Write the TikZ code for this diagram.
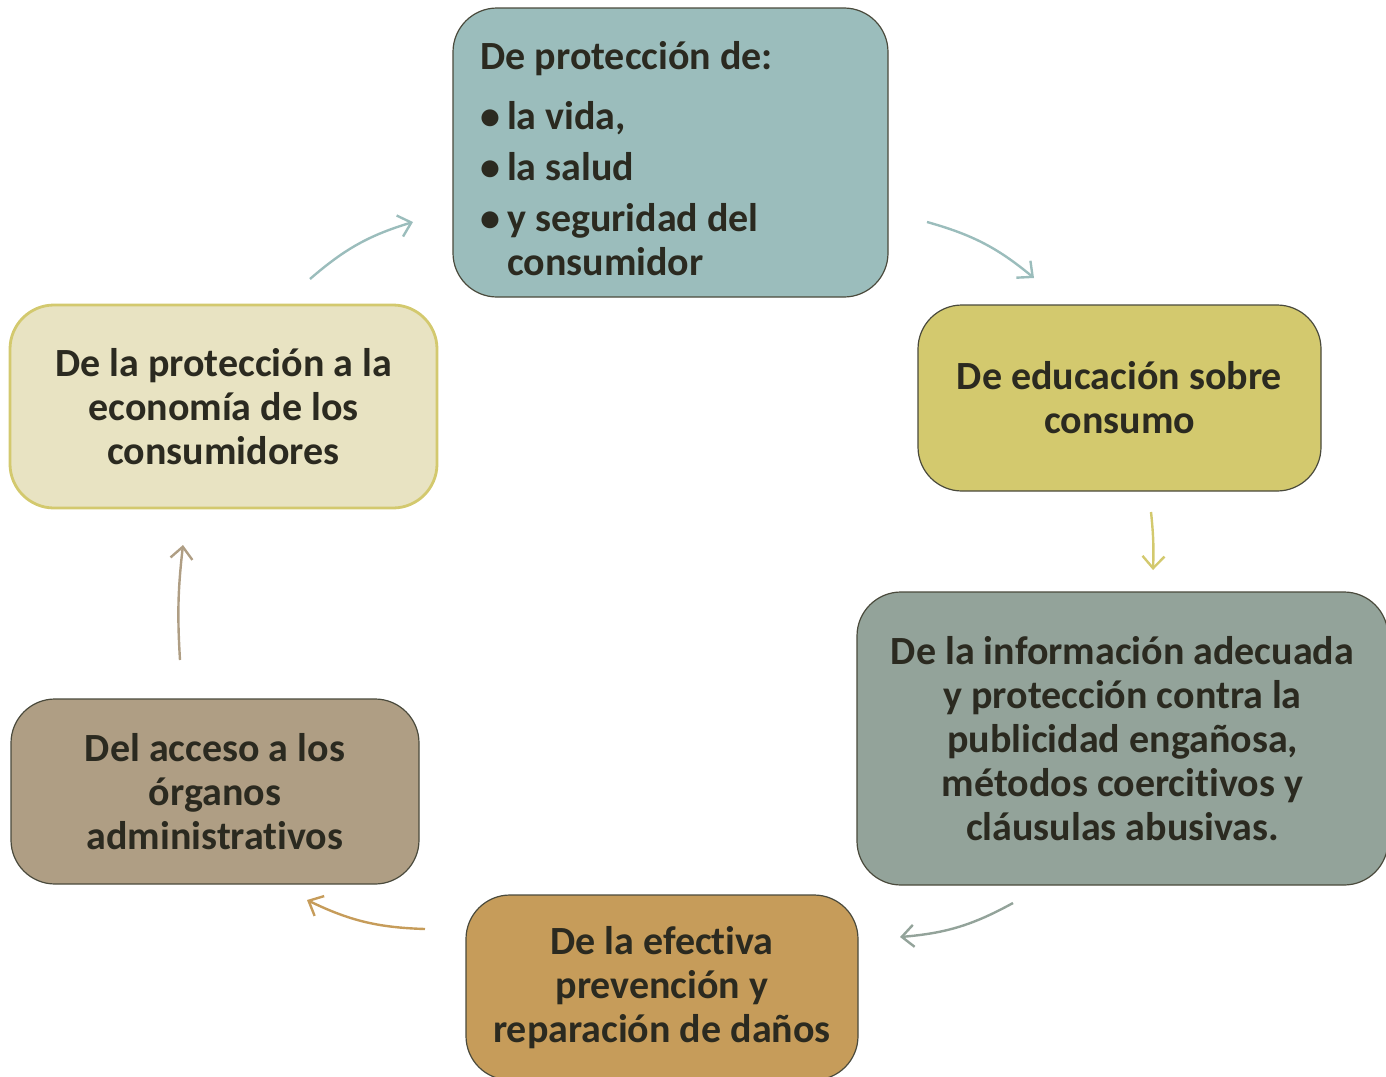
\documentclass[tikz,border=0pt]{standalone}
\usepackage{fontspec}
\setmainfont{Carlito}[Ligatures=NoCommon]
\usetikzlibrary{arrows.meta}

\definecolor{tealbox}{HTML}{9BBDBC}
\definecolor{yellowbox}{HTML}{D3C96E}
\definecolor{graybox}{HTML}{93A39A}
\definecolor{orangebox}{HTML}{C69C5A}
\definecolor{brownbox}{HTML}{AF9E84}
\definecolor{creambox}{HTML}{E8E3C2}
\definecolor{boxline}{HTML}{4A4A3C}
\definecolor{boxtext}{HTML}{2B2A20}

\begin{document}
\begin{tikzpicture}[x=0.5pt,y=0.5pt]
\useasboundingbox (0,0) rectangle (1386,-1076);
\clip (0,0) rectangle (1386,-1076);

\begin{scope}[every node/.style={rectangle,rounded corners=22pt,draw=boxline,
              line width=0.6pt,text=boxtext,align=center,
              font=\fontsize{20}{22}\selectfont\bfseries}]
    \node[fill=tealbox,minimum width=217.5pt,minimum height=144.5pt,
          text width=190pt,align=flush left] (vida) at (670.5,-152.5)
         {\rule{0pt}{20pt}De protección de:\\[8pt]
          \textbullet\,la vida,\\[3.5pt]
          \textbullet\,la salud\\[3.5pt]
          \textbullet\,y seguridad del\\
          \phantom{\textbullet\,}consumidor};
    \node[fill=yellowbox,minimum width=201.5pt,minimum height=93pt] (educacion) at (1119.5,-398)
         {De educación sobre\\consumo};
    \node[fill=graybox,minimum width=265.5pt,minimum height=146.5pt] (informacion) at (1122.5,-738.5)
         {De la información adecuada\\y protección contra la\\publicidad engañosa,\\
          métodos coercitivos y\\cláusulas abusivas.};
    \node[fill=orangebox,minimum width=196pt,minimum height=92.5pt] (danos) at (662,-987.5)
         {De la efectiva\\prevención y\\reparación de daños};
    \node[fill=brownbox,minimum width=204pt,minimum height=92.5pt] (acceso) at (215,-791.5)
         {Del acceso a los\\órganos\\administrativos};
    \node[fill=creambox,draw=yellowbox,line width=1.4pt,minimum width=213.5pt,
          minimum height=101.5pt] (economia) at (223.5,-406.5)
         {De la protección a la\\economía de los\\consumidores};
\end{scope}

% arrow ends
\coordinate (s1) at (310,-279);  \coordinate (e1) at (413,-222);
\coordinate (s2) at (927,-222);  \coordinate (e2) at (1034,-278);
\coordinate (s3) at (1151,-512); \coordinate (e3) at (1153,-570);
\coordinate (s4) at (1013,-903); \coordinate (e4) at (900,-937);
\coordinate (s5) at (425,-929);  \coordinate (e5) at (307,-900);
\coordinate (s6) at (180,-660);  \coordinate (e6) at (183,-545);

\begin{scope}[>={Straight Barb[length=6pt,width=11pt]},
              every edge/.style={draw,line width=1.2pt}]
    \path [->] (s1) edge[bend left=12,tealbox] (e1);
    \path [->] (s2) edge[bend left=12,tealbox] (e2);
    \path [->] (s3) edge[bend left=4,yellowbox] (e3);
    \path [->] (s4) edge[bend left=12,graybox] (e4);
    \path [->] (s5) edge[bend left=12,orangebox] (e5);
    \path [->] (s6) edge[bend left=5,brownbox] (e6);
\end{scope}
\end{tikzpicture}
\end{document}
